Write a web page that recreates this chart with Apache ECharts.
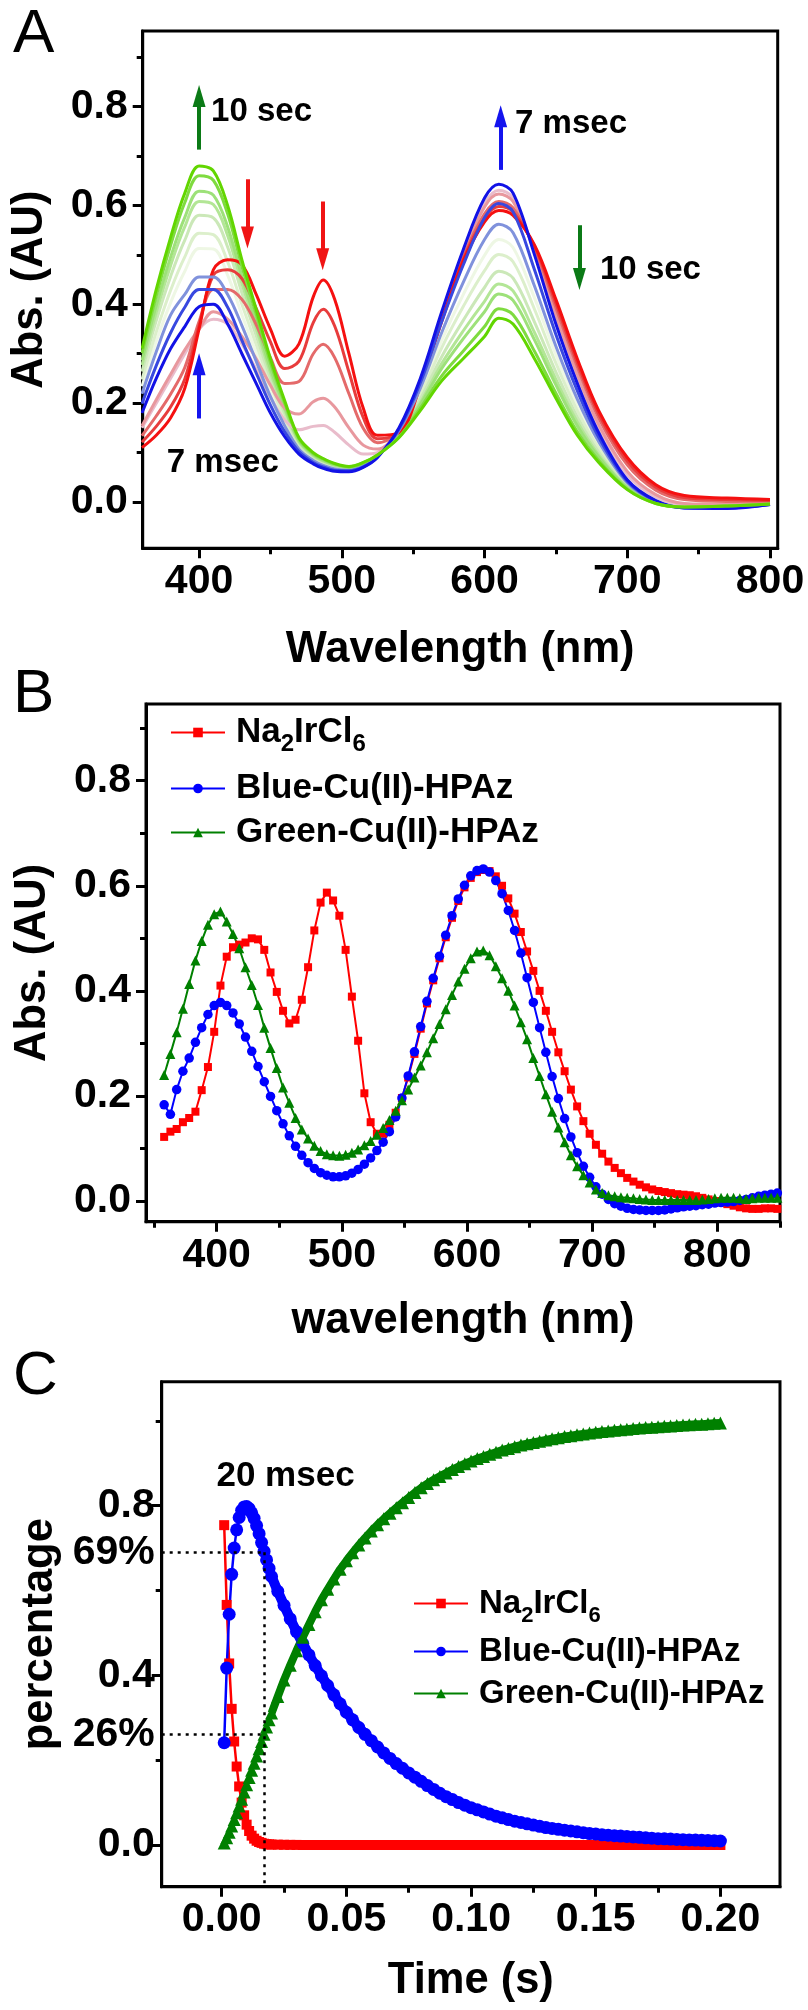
<!DOCTYPE html>
<html>
<head>
<meta charset="utf-8">
<script src="https://cdn.jsdelivr.net/npm/echarts@6/dist/echarts.min.js"></script>
<style>html,body{margin:0;padding:0;background:#fff}#c{width:808px;height:2010px}</style>
</head>
<body>
<div id="c"></div>
<script>
// ---------------- Panel A : time-resolved spectra ----------------
const wlA = [360,370,380,390,400,410,420,430,440,450,460,470,480,487,495,505,515,525,540,555,570,585,600,610,620,635,650,665,680,700,720,740,770,800];
const aR1 = [0.11,0.135,0.17,0.23,0.35,0.47,0.49,0.48,0.42,0.35,0.295,0.32,0.415,0.449,0.41,0.30,0.19,0.135,0.14,0.235,0.365,0.487,0.567,0.59,0.58,0.52,0.41,0.29,0.185,0.09,0.035,0.013,0.008,0.005];
const aR2 = [0.121,0.153,0.192,0.249,0.357,0.459,0.470,0.452,0.392,0.324,0.270,0.285,0.363,0.390,0.356,0.263,0.171,0.128,0.142,0.237,0.368,0.491,0.574,0.598,0.587,0.517,0.402,0.282,0.178,0.083,0.030,0.009,0.005,0.003];
const aR3 = [0.134,0.174,0.218,0.272,0.365,0.430,0.430,0.410,0.359,0.292,0.240,0.244,0.300,0.319,0.292,0.219,0.149,0.120,0.143,0.240,0.372,0.495,0.583,0.608,0.595,0.513,0.393,0.273,0.170,0.075,0.024,0.005,0.001,0.002];
const aR4 = [0.154,0.207,0.258,0.308,0.350,0.385,0.370,0.335,0.290,0.236,0.190,0.178,0.203,0.210,0.192,0.150,0.115,0.107,0.146,0.244,0.378,0.501,0.597,0.623,0.608,0.507,0.379,0.259,0.157,0.062,0.015,-0.003,-0.005,-0.001];
const aR5 = [0.150,0.200,0.250,0.300,0.350,0.370,0.360,0.320,0.268,0.212,0.166,0.146,0.153,0.155,0.141,0.115,0.097,0.100,0.148,0.247,0.380,0.505,0.604,0.631,0.615,0.505,0.371,0.251,0.150,0.055,0.010,-0.006,-0.008,-0.003];
const aB1 = [0.18,0.25,0.31,0.355,0.395,0.40,0.36,0.30,0.24,0.18,0.132,0.097,0.077,0.068,0.062,0.061,0.07,0.09,0.15,0.25,0.385,0.51,0.615,0.643,0.625,0.50,0.36,0.24,0.14,0.045,0.003,-0.012,-0.013,-0.005];
const aB2 = [0.199,0.276,0.342,0.394,0.430,0.430,0.394,0.327,0.261,0.196,0.142,0.102,0.080,0.071,0.064,0.063,0.071,0.091,0.147,0.241,0.365,0.479,0.575,0.604,0.587,0.470,0.339,0.225,0.131,0.042,0.002,-0.012,-0.012,-0.005];
const aB3 = [0.219,0.304,0.378,0.420,0.455,0.455,0.420,0.357,0.285,0.213,0.154,0.107,0.084,0.074,0.067,0.064,0.073,0.092,0.144,0.230,0.343,0.444,0.531,0.562,0.545,0.437,0.315,0.208,0.122,0.039,0.001,-0.011,-0.011,-0.005];
const aG1 = [0.234,0.325,0.403,0.467,0.513,0.512,0.459,0.379,0.302,0.226,0.162,0.111,0.087,0.076,0.069,0.066,0.074,0.092,0.142,0.223,0.327,0.419,0.499,0.531,0.515,0.413,0.298,0.197,0.115,0.037,0.001,-0.011,-0.011,-0.005];
const aG2 = [0.248,0.344,0.428,0.496,0.544,0.541,0.486,0.400,0.319,0.238,0.170,0.114,0.089,0.078,0.070,0.067,0.075,0.093,0.140,0.216,0.312,0.395,0.468,0.501,0.486,0.390,0.281,0.185,0.109,0.035,0.000,-0.011,-0.010,-0.004];
const aG3 = [0.264,0.367,0.456,0.530,0.580,0.575,0.516,0.423,0.337,0.251,0.179,0.118,0.092,0.081,0.072,0.068,0.076,0.093,0.137,0.208,0.294,0.367,0.434,0.467,0.453,0.364,0.263,0.172,0.101,0.032,-0.001,-0.011,-0.010,-0.004];
const aG4 = [0.277,0.384,0.478,0.557,0.608,0.602,0.539,0.442,0.352,0.262,0.187,0.122,0.094,0.083,0.074,0.069,0.077,0.094,0.135,0.201,0.280,0.346,0.406,0.441,0.427,0.343,0.248,0.162,0.095,0.030,-0.001,-0.011,-0.009,-0.004];
const aG5 = [0.287,0.398,0.495,0.576,0.629,0.621,0.557,0.456,0.363,0.270,0.192,0.124,0.096,0.084,0.075,0.070,0.078,0.094,0.134,0.197,0.270,0.330,0.385,0.421,0.408,0.328,0.237,0.154,0.091,0.029,-0.002,-0.010,-0.009,-0.004];
const aG6 = [0.301,0.417,0.519,0.606,0.660,0.651,0.583,0.477,0.380,0.282,0.200,0.128,0.098,0.087,0.077,0.071,0.079,0.095,0.131,0.190,0.255,0.305,0.355,0.391,0.379,0.305,0.220,0.142,0.084,0.026,-0.003,-0.010,-0.008,-0.004];
const aG7 = [0.31,0.43,0.535,0.625,0.68,0.67,0.60,0.49,0.39,0.29,0.205,0.13,0.10,0.088,0.078,0.072,0.08,0.095,0.13,0.185,0.245,0.29,0.335,0.372,0.36,0.29,0.21,0.135,0.08,0.025,-0.003,-0.01,-0.008,-0.004];

// annotation arrows (x, tail value, tip value) and texts for panel A
const arrowsA = [
  {x:400,   y0:0.713, y1:0.844, color:'#0b7a16'},
  {x:611.3, y0:0.672, y1:0.803, color:'#1414ee'},
  {x:666.5, y0:0.560, y1:0.429, color:'#0b7a16'},
  {x:433.9, y0:0.653, y1:0.513, color:'#f01414'},
  {x:486.6, y0:0.608, y1:0.469, color:'#f01414'},
  {x:400,   y0:0.169, y1:0.301, color:'#1414ee'}
];
const textsA = [
  {x:408.4, y:0.790, text:'10 sec'},
  {x:621.4, y:0.766, text:'7 msec'},
  {x:680.9, y:0.469, text:'10 sec'},
  {x:377.4, y:0.080, text:'7 msec'}
];

// ---------------- Panel B : reference spectra ----------------
const wlB = [358,363,368,373,378,383,388,393,398,403,408,413,418,423,428,433,438,443,448,453,458,463,468,473,478,483,488,493,498,503,508,513,518,523,528,533,538,543,548,553,558,563,568,573,578,583,588,593,598,603,608,613,618,623,628,633,638,643,648,653,658,663,668,673,678,683,688,693,698,703,708,713,718,723,728,733,738,743,748,753,758,763,768,773,778,783,788,793,798,803,808,813,818,823,828,833,838,843,848];
const bIr = [0.122,0.132,0.137,0.150,0.158,0.170,0.211,0.255,0.322,0.410,0.465,0.483,0.488,0.492,0.500,0.498,0.478,0.435,0.398,0.362,0.338,0.345,0.383,0.445,0.515,0.568,0.587,0.572,0.543,0.478,0.389,0.305,0.205,0.150,0.128,0.128,0.145,0.168,0.196,0.235,0.280,0.328,0.376,0.420,0.462,0.502,0.539,0.571,0.597,0.615,0.626,0.630,0.628,0.618,0.600,0.576,0.547,0.512,0.475,0.438,0.400,0.362,0.322,0.283,0.247,0.212,0.180,0.152,0.128,0.107,0.090,0.075,0.063,0.053,0.044,0.037,0.031,0.026,0.022,0.019,0.017,0.015,0.013,0.012,0.011,0.009,0.006,0.003,0.000,-0.003,-0.006,-0.009,-0.012,-0.014,-0.015,-0.015,-0.014,-0.014,-0.015];
const bBlue = [0.183,0.165,0.212,0.247,0.272,0.302,0.330,0.355,0.372,0.378,0.372,0.358,0.337,0.312,0.285,0.256,0.227,0.199,0.172,0.147,0.124,0.104,0.087,0.073,0.062,0.054,0.049,0.046,0.046,0.048,0.053,0.060,0.070,0.082,0.096,0.112,0.132,0.160,0.196,0.238,0.284,0.332,0.380,0.424,0.466,0.506,0.543,0.575,0.601,0.619,0.629,0.632,0.626,0.610,0.585,0.553,0.515,0.472,0.425,0.378,0.330,0.283,0.237,0.195,0.157,0.122,0.092,0.066,0.045,0.027,0.013,0.003,-0.005,-0.010,-0.014,-0.016,-0.017,-0.018,-0.018,-0.018,-0.017,-0.015,-0.013,-0.011,-0.010,-0.009,-0.007,-0.006,-0.004,-0.003,-0.002,-0.001,0.001,0.003,0.006,0.009,0.011,0.013,0.015];
const bGreen = [0.240,0.280,0.321,0.366,0.413,0.458,0.495,0.526,0.546,0.551,0.532,0.508,0.481,0.445,0.411,0.373,0.330,0.291,0.253,0.216,0.187,0.158,0.136,0.119,0.105,0.095,0.089,0.087,0.086,0.088,0.092,0.098,0.106,0.114,0.126,0.139,0.154,0.172,0.192,0.212,0.235,0.258,0.283,0.310,0.337,0.365,0.392,0.418,0.442,0.462,0.475,0.477,0.468,0.447,0.424,0.400,0.372,0.340,0.308,0.272,0.238,0.203,0.170,0.140,0.112,0.087,0.066,0.049,0.035,0.022,0.015,0.011,0.009,0.007,0.006,0.005,0.004,0.003,0.002,0.002,0.002,0.002,0.002,0.002,0.002,0.002,0.003,0.004,0.005,0.006,0.006,0.006,0.005,0.004,0.005,0.006,0.006,0.006,0.006];

// ---------------- Panel C : kinetics ----------------
const tC = [0.001,0.002,0.003,0.004,0.005,0.006,0.007,0.008,0.009,0.010,0.011,0.012,0.013,0.014,0.015,0.016,0.017,0.018,0.019,0.020,
  0.0225,0.025,0.0275,0.030,0.0325,0.035,0.0375,0.040,0.0425,0.045,
  0.0475,0.050,0.0525,0.055,0.0575,0.060,0.0625,0.065,0.0675,0.070,
  0.0725,0.075,0.0775,0.080,0.0825,0.085,0.0875,0.090,0.0925,0.095,
  0.0975,0.100,0.1025,0.105,0.1075,0.110,0.1125,0.115,0.1175,0.120,
  0.1225,0.125,0.1275,0.130,0.1325,0.135,0.1375,0.140,0.1425,0.145,
  0.1475,0.150,0.1525,0.155,0.1575,0.160,0.1625,0.165,0.1675,0.170,
  0.1725,0.175,0.1775,0.180,0.1825,0.185,0.1875,0.190,0.1925,0.195,
  0.1975,0.200];
const cIr = [0.754,0.566,0.428,0.321,0.244,0.185,0.138,0.100,0.070,0.048,0.033,0.022,0.015,0.010,0.007,0.005,0.003,0.002,0.0015,0.001,
  0.0008,0.0005,0.0003,0.0002,0,0,0,0,0,0,
  0,0,0,0,0,0,0,0,0,0,
  0,0,0,0,0,0,0,0,0,0,
  0,0,0,0,0,0,0,0,0,0,
  0,0,0,0,0,0,0,0,0,0,
  0,0,0,0,0,0,0,0,0,0,
  0,0,0,0,0,0,0,0,0,0,
  0,0];
const cBlue = [0.241,0.417,0.544,0.638,0.700,0.743,0.772,0.789,0.797,0.798,0.793,0.783,0.770,0.753,0.734,0.713,0.692,0.672,0.652,0.633,
  0.598,0.565,0.533,0.503,0.475,0.448,0.423,0.399,0.376,0.354,
  0.333,0.313,0.295,0.277,0.261,0.246,0.231,0.217,0.204,0.192,
  0.181,0.170,0.160,0.150,0.140,0.131,0.122,0.114,0.107,0.100,
  0.094,0.088,0.083,0.078,0.073,0.068,0.064,0.060,0.056,0.053,
  0.050,0.047,0.044,0.041,0.039,0.037,0.035,0.033,0.031,0.029,
  0.027,0.026,0.024,0.023,0.022,0.021,0.020,0.019,0.018,0.017,
  0.016,0.015,0.0145,0.014,0.013,0.0125,0.012,0.0115,0.011,0.0105,
  0.010,0.0095];
const cGreen = [0.005,0.017,0.030,0.045,0.060,0.076,0.092,0.108,0.125,0.142,0.159,0.176,0.193,0.210,0.227,0.244,0.261,0.278,0.295,0.311,
  0.350,0.389,0.424,0.458,0.490,0.520,0.550,0.578,0.603,0.627,
  0.650,0.670,0.689,0.707,0.724,0.740,0.755,0.769,0.782,0.795,
  0.807,0.819,0.831,0.842,0.852,0.861,0.869,0.877,0.885,0.892,
  0.899,0.905,0.911,0.916,0.921,0.926,0.931,0.935,0.939,0.943,
  0.946,0.949,0.952,0.955,0.958,0.960,0.963,0.965,0.967,0.969,
  0.971,0.973,0.975,0.976,0.978,0.979,0.980,0.982,0.983,0.984,
  0.985,0.986,0.987,0.988,0.989,0.990,0.991,0.992,0.992,0.993,
  0.994,0.995];
const markTime = 0.017, markBlue = 0.69, markGreen = 0.26;
const textsC = [{x:-0.0021, y:0.868, text:'20 msec'}];

// ---------------- tick values ----------------
const ticksYAB = [0,0.2,0.4,0.6,0.8], minorYAB = [0.1,0.3,0.5,0.7,0.9];
const ticksXA = [400,500,600,700,800], minorXA = [450,550,650,750];
const ticksXB = [400,500,600,700,800], minorXB = [350,450,550,650,750,850];
const ticksXC = [0,0.05,0.10,0.15,0.20], minorXC = [0.025,0.075,0.125,0.175];
const labelsYC = [0,0.26,0.4,0.69,0.8], ticksYC = [0,0.4,0.8], minorYC = [0.2,0.6,1.0];

// ---------------- styling / layout ----------------
const FONT = "'Liberation Sans', Arial, Helvetica, sans-serif";
const chart = echarts.init(document.getElementById('c'), null, {renderer:'canvas', width:808, height:2010});

const rangeA = {xmin:360.5, xmax:805.4, ymin:-0.0937, ymax:0.953};
const rangeB = {xmin:343.5, xmax:850.1, ymin:-0.0394, ymax:0.946};
const rangeC = {xmin:-0.02406, xmax:0.2239, ymin:-0.0983, ymax:1.0922};

const grid = [
  {left:142.7, top:31, width:635, height:517.3},
  {left:146, top:704, width:634, height:517.7},
  {left:161.7, top:1381.7, width:618.3, height:505}
].map(g => Object.assign({show:true, borderColor:'#000', borderWidth:3, containLabel:false, outerBoundsMode:'none'}, g));

const tickFont = {color:'#000', fontSize:41, fontWeight:'bold', fontFamily:FONT};
const nameFont = {color:'#000', fontSize:43.5, fontWeight:'bold', fontFamily:FONT};

function mainAxis(dim, gi, min, max, vals, fmt, margin, name, nameGap, labelVals) {
  return {
    type:'value', gridIndex:gi, min, max, position: dim==='x' ? 'bottom' : 'left',
    axisLine:{show:true, onZero:false, lineStyle:{color:'#000', width:3}},
    axisTick:{show:true, inside:false, length:10, lineStyle:{color:'#000', width:3}, customValues:vals},
    axisLabel:Object.assign({show:true, customValues: labelVals || vals, formatter:fmt, margin}, tickFont),
    splitLine:{show:false}, minorTick:{show:false},
    name, nameLocation:'middle', nameGap, nameTextStyle:nameFont
  };
}
function minorAxis(dim, gi, min, max, vals) {
  return {
    type:'value', gridIndex:gi, min, max, position: dim==='x' ? 'bottom' : 'left',
    axisLine:{show:false, onZero:false},
    axisTick:{show:true, inside:false, length:6, lineStyle:{color:'#000', width:3}, customValues:vals},
    axisLabel:{show:false}, splitLine:{show:false}
  };
}
const fmt1 = v => v.toFixed(1);
const fmtInt = v => String(Math.round(v));
const fmt2 = v => v.toFixed(2);
const fmtYC = v => Math.abs(v-0.26)<1e-6 ? '26%' : (Math.abs(v-0.69)<1e-6 ? '69%' : v.toFixed(1));

const xAxis = [
  mainAxis('x',0,rangeA.xmin,rangeA.xmax,ticksXA,fmtInt,13,'Wavelength (nm)',80),
  minorAxis('x',0,rangeA.xmin,rangeA.xmax,minorXA),
  mainAxis('x',1,rangeB.xmin,rangeB.xmax,ticksXB,fmtInt,13,'wavelength (nm)',77),
  minorAxis('x',1,rangeB.xmin,rangeB.xmax,minorXB),
  mainAxis('x',2,rangeC.xmin,rangeC.xmax,ticksXC,fmt2,12,'Time (s)',72),
  minorAxis('x',2,rangeC.xmin,rangeC.xmax,minorXC)
];
const yAxis = [
  mainAxis('y',0,rangeA.ymin,rangeA.ymax,ticksYAB,fmt1,15,'Abs. (AU)',91),
  minorAxis('y',0,rangeA.ymin,rangeA.ymax,minorYAB),
  mainAxis('y',1,rangeB.ymin,rangeB.ymax,ticksYAB,fmt1,15,'Abs. (AU)',91),
  minorAxis('y',1,rangeB.ymin,rangeB.ymax,minorYAB),
  mainAxis('y',2,rangeC.ymin,rangeC.ymax,ticksYC,fmtYC,7,'percentage',100,labelsYC),
  minorAxis('y',2,rangeC.ymin,rangeC.ymax,minorYC)
];

const series = [];
// Panel A curves (draw order: pale greens, reds, blues, saturated greens)
const curvesA = [
  {d:aG1,c:'#eef7e4'},{d:aG2,c:'#dcefcb'},{d:aG3,c:'#cbe8b8'},{d:aG4,c:'#b3e696'},{d:aG5,c:'#9de179'},
  {d:aR5,c:'#e9bccb'},{d:aR4,c:'#e8989e'},{d:aR3,c:'#e46a6a'},{d:aR2,c:'#e83c3c'},{d:aR1,c:'#f51010'},
  {d:aB3,c:'#8092dc'},{d:aB2,c:'#3848e0'},{d:aB1,c:'#1212e6'},
  {d:aG6,c:'#7fdb40'},{d:aG7,c:'#62d600'}
];
curvesA.forEach((cv,k) => series.push({
  type:'line', name:'A'+k, xAxisIndex:0, yAxisIndex:0, silent:true,
  data: wlA.map((w,i)=>[w, cv.d[i]]), showSymbol:false, smooth:0.35,
  lineStyle:{color:cv.c, width:3}, itemStyle:{color:cv.c}
}));
series.push({
  type:'scatter', name:'annA', xAxisIndex:0, yAxisIndex:0, silent:true, symbolSize:0,
  itemStyle:{opacity:1, color:'#000'},
  data: textsA.map(t=>({value:[t.x,t.y], label:{formatter:t.text}})),
  label:{show:true, position:'right', distance:0, color:'#000', opacity:1, fontSize:33, fontWeight:'bold', fontFamily:FONT},
  markLine:{
    silent:true, animation:false, symbol:['none','triangle'], label:{show:false},
    lineStyle:{width:4, type:'solid'},
    data: arrowsA.map(a => {
      const dir = a.y1 > a.y0 ? 1 : -1;
      return [
        {coord:[a.x,a.y0], lineStyle:{color:a.color, width:4, type:'solid'}, itemStyle:{color:a.color}},
        {coord:[a.x,a.y1 - dir*0.0223], symbol:'triangle', symbolSize:[13,22], itemStyle:{color:a.color}}
      ];
    })
  },
  z:20
});

// Panel B
series.push({type:'line', name:'Na2IrCl6', xAxisIndex:2, yAxisIndex:2, data: wlB.map((w,i)=>[w,bIr[i]]),
  symbol:'rect', symbolSize:8, showSymbol:true, lineStyle:{color:'#ff0000', width:2}, itemStyle:{color:'#ff0000'}});
series.push({type:'line', name:'Blue-Cu(II)-HPAz', xAxisIndex:2, yAxisIndex:2, data: wlB.map((w,i)=>[w,bBlue[i]]),
  symbol:'circle', symbolSize:9.5, showSymbol:true, lineStyle:{color:'#0000ff', width:2}, itemStyle:{color:'#0000ff'}});
series.push({type:'line', name:'Green-Cu(II)-HPAz', xAxisIndex:2, yAxisIndex:2, data: wlB.map((w,i)=>[w,bGreen[i]]),
  symbol:'triangle', symbolSize:10, showSymbol:true, lineStyle:{color:'#008000', width:2}, itemStyle:{color:'#008000'}});

// Panel C : dense tail drawn as a thick band under the markers (points from index 19 on)
const bandStart = 19;
const cSets = [
  {name:'Na2IrCl6', d:cIr, color:'#ff0000', sym:'rect', size:10, band:7},
  {name:'Blue-Cu(II)-HPAz', d:cBlue, color:'#0000ff', sym:'circle', size:13, band:10},
  {name:'Green-Cu(II)-HPAz', d:cGreen, color:'#008000', sym:'triangle', size:13, band:8}
];
cSets.forEach(s => {
  series.push({type:'line', name:s.name+' band', xAxisIndex:4, yAxisIndex:4, silent:true, showSymbol:false,
    data: tC.map((t,i)=>[t,s.d[i]]).slice(bandStart), lineStyle:{color:s.color, width:s.band}, itemStyle:{color:s.color}});
  series.push({type:'line', name:s.name, xAxisIndex:4, yAxisIndex:4, data: tC.map((t,i)=>[t,s.d[i]]),
    symbol:s.sym, symbolSize:s.size, showSymbol:true, lineStyle:{color:s.color, width:2.5}, itemStyle:{color:s.color}});
});
series.push({
  type:'scatter', name:'annC', xAxisIndex:4, yAxisIndex:4, silent:true, symbolSize:0,
  itemStyle:{opacity:1, color:'#000'},
  data: textsC.map(t=>({value:[t.x,t.y], label:{formatter:t.text}})),
  label:{show:true, position:'right', distance:0, color:'#000', opacity:1, fontSize:35, fontWeight:'bold', fontFamily:FONT},
  markLine:{
    silent:true, animation:false, symbol:['none','none'], label:{show:false},
    lineStyle:{color:'#000', width:2.5, type:[3,5]},
    data:[
      [{coord:[rangeC.xmin, markBlue]}, {coord:[markTime, markBlue]}],
      [{coord:[rangeC.xmin, markGreen]}, {coord:[markTime, markGreen]}],
      [{coord:[markTime, markBlue]}, {coord:[markTime, rangeC.ymin]}]
    ]
  },
  z:20
});

// legends
const legendNames = ['Na2IrCl6','Blue-Cu(II)-HPAz','Green-Cu(II)-HPAz'];
function legendFmt(name){ return name==='Na2IrCl6' ? '{t|Na}{s|2}{t|IrCl}{s|6}' : '{t|'+name+'}'; }
function makeLegends(left, rows, fs) {
  return legendNames.map((n,i)=>({
    show:true, left, top: rows[i]-20, orient:'horizontal', padding:0, itemGap:0,
    itemWidth:54, itemHeight:12, selectedMode:false, data:[n], formatter:legendFmt,
    textStyle:{padding:[0,0,0,6], rich:{
      t:{fontSize:fs, fontWeight:'bold', fontFamily:FONT, color:'#000', lineHeight:40},
      s:{fontSize:Math.round(fs*0.68), fontWeight:'bold', fontFamily:FONT, color:'#000', height:16, lineHeight:16, verticalAlign:'bottom'}
    }}
  }));
}
const legend = makeLegends(170, [735,791,835], 35).concat(makeLegends(413, [1607,1655,1697], 33));

const letterStyle = t => ({text:t, font:'normal 62px ' + FONT, fill:'#000'});
const graphic = [
  {type:'text', left:13, top:4, style:letterStyle('A')},
  {type:'text', left:13, top:664, style:letterStyle('B')},
  {type:'text', left:13, top:1346, style:letterStyle('C')}
];

chart.setOption({
  animation:false, backgroundColor:'#fff',
  grid, xAxis, yAxis, series, legend, graphic
});
</script>
</body>
</html>
